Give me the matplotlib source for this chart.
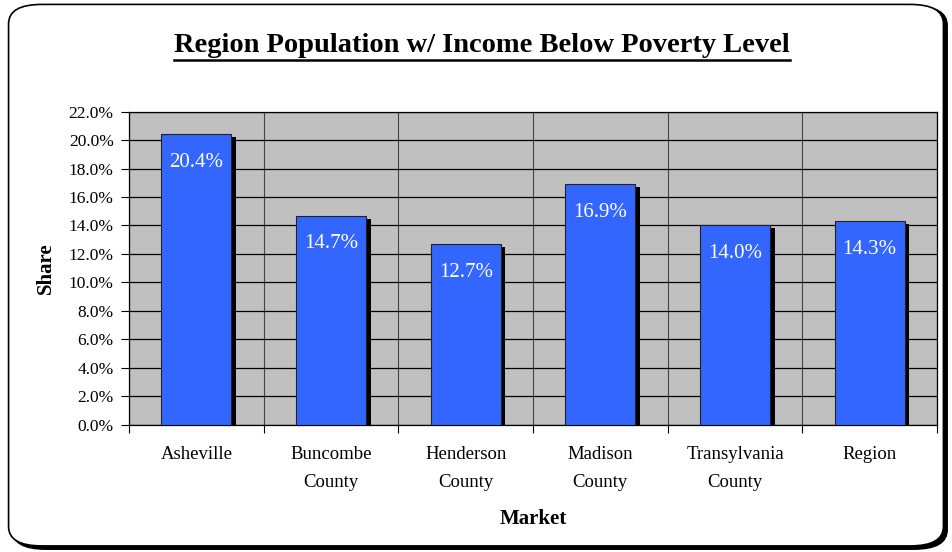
import matplotlib
matplotlib.use('Agg')
import matplotlib.pyplot as plt
import matplotlib.transforms as mtransforms
from matplotlib.patches import FancyBboxPatch
from matplotlib.lines import Line2D
import numpy as np

matplotlib.rc('font', family='Liberation Serif')

markets = ['Asheville', 'Buncombe\nCounty', 'Henderson\nCounty',
           'Madison\nCounty', 'Transylvania\nCounty', 'Region']
share = [20.4, 14.7, 12.7, 16.9, 14.0, 14.3]
yticks = np.arange(0, 22.1, 2.0)

fig = plt.figure(figsize=(9.52, 5.52), dpi=100)

# rounded frame with a drop shadow
shadow = FancyBboxPatch((0.013, 0.005), 0.982, 0.984, boxstyle='round,pad=0,rounding_size=0.035',
                        transform=fig.transFigure, facecolor='black', edgecolor='black', zorder=0)
frame = FancyBboxPatch((0.009, 0.011), 0.982, 0.981, boxstyle='round,pad=0,rounding_size=0.035',
                       transform=fig.transFigure, facecolor='white', edgecolor='black',
                       linewidth=1.2, zorder=1)
fig.patches.extend([shadow, frame])

ax = fig.add_axes([0.1355, 0.2301, 0.8488, 0.5679])
ax.set_facecolor('#C0C0C0')
ax.set_zorder(2)

x = np.arange(len(markets))
w = 0.52
off = mtransforms.ScaledTranslation(4.5 / 100, -3 / 100, fig.dpi_scale_trans)
ax.bar(x, share, width=w, color='black', transform=ax.transData + off, zorder=2)
ax.bar(x, share, width=w, color='#3366FF', edgecolor='#222222', linewidth=0.8, zorder=3)

for xi, v in zip(x, share):
    ax.annotate(f'{v:.1f}%', (xi, v), xytext=(0, -20.5), textcoords='offset points',
                ha='center', va='center', color='white', fontsize=15, zorder=4)

ax.set_xlim(-0.5, len(markets) - 0.5)
ax.set_ylim(0, 22)
ax.set_yticks(yticks)
ax.set_yticklabels([f'{t:.1f}%' for t in yticks], fontsize=12.5)
ax.yaxis.grid(True, color='black', linewidth=0.9)
ax.set_xticks(np.arange(len(markets) + 1) - 0.5, minor=False)
ax.set_xticklabels([])
ax.set_xticks(x, minor=True)
ax.set_xticklabels(markets, minor=True, fontsize=13.5, linespacing=1.85)
ax.tick_params(axis='x', which='minor', length=0, pad=15)
ax.tick_params(axis='x', which='major', length=6, width=0.8)
ax.tick_params(axis='y', length=6, width=0.8, pad=5)
ax.xaxis.grid(True, which='major', color='#444444', linewidth=0.8)
ax.set_axisbelow(True)
for s in ax.spines.values():
    s.set_linewidth(0.9)

ax.set_ylabel('Share', fontsize=15, fontweight='bold', labelpad=9)
ax.set_xlabel('Market', fontsize=15, fontweight='bold', labelpad=13)

title = fig.text(0.506, 0.917, 'Region Population w/ Income Below Poverty Level',
                 ha='center', va='center', fontsize=20.5, fontweight='bold')

# underline the title
fig.canvas.draw()
bb = title.get_window_extent().transformed(fig.transFigure.inverted())
fig.add_artist(Line2D([bb.x0, bb.x1], [bb.y0 - 0.003, bb.y0 - 0.003],
                      transform=fig.transFigure, color='black', linewidth=1.8))

fig.savefig('out.png', dpi=100)
